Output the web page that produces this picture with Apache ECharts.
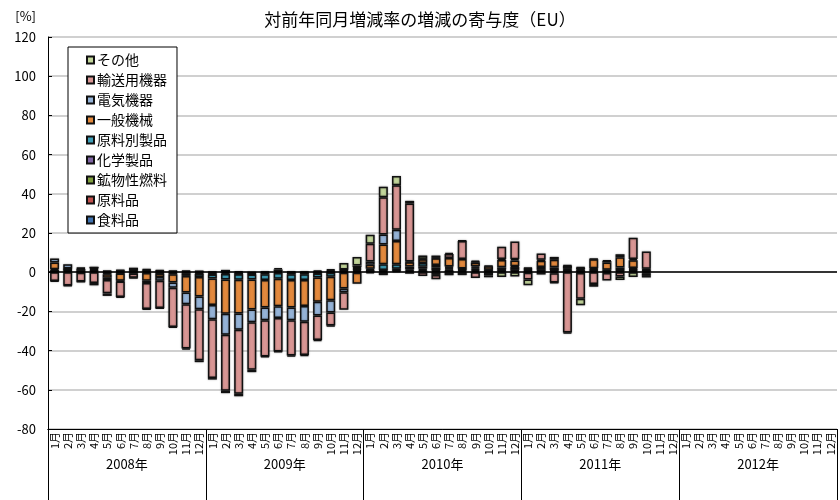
<!DOCTYPE html>
<html>
<head>
<meta charset="utf-8">
<script src="https://cdn.jsdelivr.net/npm/echarts@6/dist/echarts.min.js"></script>
<style>
  html, body { margin: 0; padding: 0; background: #fff; }
  #chart { width: 840px; height: 500px; }
</style>
</head>
<body>
<div id="chart"></div>
<script>
// 2008年1月〜2011年10月（以降は未公表）
const years = ['2008年', '2009年', '2010年', '2011年', '2012年'];
const months = ['1月', '2月', '3月', '4月', '5月', '6月', '7月', '8月', '9月', '10月', '11月', '12月'];

const food = [
  0.3, 0.5, 0.3, 0.5, 0.4, 0.5, 0.3, 0.5, 0.5, 0.4, 0.5, 0.4,
  0.3, 0.2, 0.4, -0.2, 0.3, 0.6, 0.3, 0.3, 0.3, 0.5, 0.4, 0.6,
  0.4, 0.5, 0.6, 0.5, 0.8, 0.5, 0.8, 0.5, 0.7, 0.4, 0.5, 0.5,
  0.4, 0.4, 0.5, 0.4, 0.4, 0.4, 0.3, 0.5, 0.5, 0.4
];
const rawMat = [
  0.2, 0.3, 0.2, 0.3, -0.2, 0.3, 0.2, 0.3, 0.2, -0.3, -0.3, -0.4,
  -0.5, -0.5, -0.5, -0.4, -0.4, -0.4, -0.4, -0.4, -0.4, -0.3, -0.3, -0.3,
  -0.6, 0.3, 0.4, 0.4, 0.5, 0.4, 0.5, 0.4, 0.5, 0.3, 0.4, 0.4,
  0.4, 0.3, 0.3, 0.3, 0.3, 0.4, 0.3, 0.3, 0.4, 0.3
];
const fuel = [
  0, 0.3, -0.3, 0.4, -0.3, -0.3, -0.3, -0.4, -0.3, -0.3, -0.3, -0.4,
  -0.4, 1.0, -0.3, -0.3, -0.3, 0.8, -0.3, -0.3, -0.3, 0.5, 0.4, 0.6,
  0.4, -1.5, 0.3, -0.8, 0.5, -1.4, 0.6, 0.4, 0.6, -0.3, 0.3, 0.3,
  0.4, 0.3, -0.5, 0.3, -0.4, 0.4, -0.4, 0.3, 0.4, 0.3
];
const chem = [
  0.4, 0.3, 0.3, 0.5, 0.3, 0.3, 0.3, 0.4, 0.4, 0.3, 0.3, 0.2,
  -0.3, -0.4, -0.3, -0.3, -0.3, 0.6, -0.3, -0.3, 0.5, 0.5, 0.3, 0.4,
  0.4, 0.3, 0.4, 0.5, 1.0, 1.4, 0.5, 0.3, 0.6, 0.3, 0.3, 1.4,
  0.4, 0.3, 0.3, 0.4, 0.4, 0.4, 0.3, 0.3, 0.4, 0.3
];
const manuf = [
  0.6, 0.3, 0.8, 0.4, -0.6, -0.4, 0.3, 0.4, -0.4, -0.4, -1.3, -1.6,
  -2.0, -2.8, -2.8, -2.5, -3.0, -3.0, -3.0, -3.0, -2.0, -2.0, 0.3, 0.4,
  0.6, 3.0, 2.4, 1.5, 1.9, 1.4, 0.5, 0.3, 0.6, 0.3, 1.0, 0.4,
  0.4, 1.4, 1.4, 0.4, 0.4, 0.4, 0.3, 1.0, 0.4, -0.5
];
const machinery = [
  3.5, 0.2, 0.4, 0.3, -1.7, -3.7, -0.3, -4.0, -1.8, -4.3, -8.5, -10,
  -13.5, -17.5, -17.2, -15.3, -14, -14, -14, -13.3, -12.4, -12, -8, -5.6,
  2.0, 10, 11.8, 2.2, 1.9, 3.4, 4.4, 4.8, 2.0, 1.7, 3.7, 3.0,
  0.4, 3.1, 3.8, 1.5, 0.8, 4.6, 3.7, 5.2, 4.0, 0.4
];
const electric = [
  2.0, 2.2, 0.3, 0, -1.2, -0.4, 1.2, -1.1, -1.8, -2.6, -6.0, -6.5,
  -7.3, -10.7, -8.2, -6.5, -6.5, -6, -6.5, -8.0, -7, -6.3, -1.9, 0.5,
  1.7, 5.1, 5.7, 0.3, 0.2, 0.3, -1.6, -1.5, 0.3, -1.3, 0.5, 0.6,
  -0.3, 0.5, 1.5, 0.3, 0.3, 0.3, 0.8, 1.6, 0.6, -1.4
];
const transport = [
  -4.5, -6.8, -4.5, -5.5, -6.8, -7.8, -2.2, -13.3, -14.0, -20, -22.5, -26,
  -30, -28.6, -32.7, -24.3, -18.5, -17, -18, -17, -12.5, -6.6, -9.0, 0.9,
  9.0, 19, 22.8, 29.6, -2.0, -2.2, 2.0, 9.2, -3.0, 0.3, 6.3, 9.0,
  -3.4, 3.2, -4.7, -30.8, -13.1, -6.0, -3.8, -2.2, 10.9, 8.8
];
const others = [
  -0.3, -0.3, -0.2, -1.2, -1.3, -0.4, -0.2, -0.3, -0.2, -0.3, -0.6, -1.0,
  -0.8, -1.2, -1.3, -1.2, -0.4, -0.4, -0.5, -0.4, -0.5, -0.4, 3.3, 4.3,
  4.6, 5.4, 4.7, 1.4, 1.7, 1.1, 0.6, 0.3, 0.6, -1.0, -2.5, -2.2,
  -3.0, -1.2, -0.3, -0.5, -3.4, -1.4, 0.4, -1.8, -2.5, -0.8
];

// 積み上げ順（下から）
const seriesDefs = [
  { name: '食料品', data: food, color: '#3f72af' },
  { name: '原料品', data: rawMat, color: '#c0504d' },
  { name: '鉱物性燃料', data: fuel, color: '#7f9f3e' },
  { name: '化学製品', data: chem, color: '#7f65a3' },
  { name: '原料別製品', data: manuf, color: '#3e9fb8' },
  { name: '一般機械', data: machinery, color: '#e3893d' },
  { name: '電気機器', data: electric, color: '#95b3d7' },
  { name: '輸送用機器', data: transport, color: '#d99694' },
  { name: 'その他', data: others, color: '#c3d69b' }
];

const categories = [];
years.forEach(y => months.forEach(m => categories.push(y + m)));

const font = '"Noto Sans CJK JP", "Noto Sans", sans-serif';

const series = seriesDefs.map((s, i) => {
  const item = {
    name: s.name,
    type: 'bar',
    stack: 'total',
    data: s.data,
    barWidth: 9,
    itemStyle: {
      color: s.color,
      borderColor: '#111',
      borderWidth: 1.5,
      shadowColor: 'rgba(0,0,0,0.35)',
      shadowBlur: 2
    },
    emphasis: { disabled: true }
  };
  if (i === seriesDefs.length - 1) {
    item.markLine = {
      silent: true,
      symbol: 'none',
      label: { show: false },
      lineStyle: { color: '#000', width: 1.5, type: 'solid' },
      data: [{ yAxis: 0 }]
    };
  }
  return item;
});

const chart = echarts.init(document.getElementById('chart'));
chart.setOption({
  animation: false,
  textStyle: { fontFamily: font },
  title: {
    text: '対前年同月増減率の増減の寄与度（EU）',
    left: 'center',
    top: 6,
    textStyle: { fontSize: 17, fontWeight: 'normal', color: '#000', fontFamily: font }
  },
  legend: {
    orient: 'vertical',
    left: 68,
    top: 47,
    data: seriesDefs.map(s => s.name).reverse(),
    backgroundColor: '#fff',
    borderColor: '#000',
    borderWidth: 1,
    padding: [6, 10, 6, 18],
    itemGap: 6,
    itemWidth: 7,
    itemHeight: 7,
    icon: 'rect',
    selectedMode: false,
    textStyle: { fontSize: 14, lineHeight: 14, color: '#000', padding: [0, 0, 0, -2] }
  },
  grid: { left: 48, right: 3, top: 37, bottom: 71, containLabel: false },
  xAxis: [
    {
      type: 'category',
      data: categories,
      position: 'bottom',
      axisLine: { onZero: false, lineStyle: { color: '#000', width: 1 } },
      axisTick: { show: false },
      axisLabel: {
        interval: 0,
        rotate: 90,
        margin: 3,
        fontSize: 11,
        color: '#000',
        formatter: v => v.slice(5)
      },
      splitLine: { show: false }
    },
    {
      type: 'category',
      data: years,
      position: 'bottom',
      axisLine: { onZero: false, lineStyle: { color: '#000', width: 1 } },
      axisTick: { show: true, length: 72, lineStyle: { color: '#000', width: 1 } },
      axisLabel: { margin: 29, fontSize: 13, color: '#000' }
    }
  ],
  yAxis: {
    type: 'value',
    min: -80,
    max: 120,
    interval: 20,
    name: '[%]',
    nameLocation: 'end',
    nameGap: 14,
    nameTextStyle: { align: 'right', padding: [0, 12, 0, 0], fontSize: 13, color: '#000' },
    axisLine: { show: true, lineStyle: { color: '#000', width: 1 } },
    axisTick: { show: true, inside: true, length: 4, lineStyle: { color: '#000' } },
    axisLabel: { fontSize: 13, color: '#000', margin: 12 },
    splitLine: { lineStyle: { color: '#c0c0c0', width: 1.5 } }
  },
  series: series
});
</script>
</body>
</html>
